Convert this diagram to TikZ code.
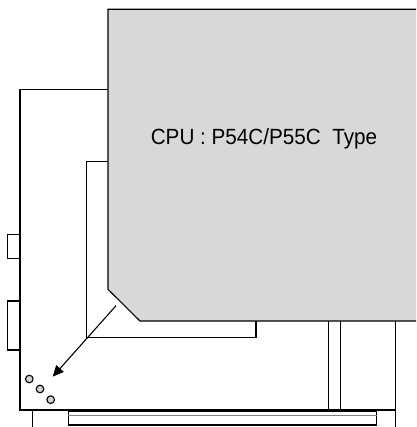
\documentclass[tikz,border=0pt]{standalone}
\usepackage{fontspec}
\setmainfont{Liberation Sans}
\usetikzlibrary{arrows.meta}
\begin{document}
\begin{tikzpicture}[x=1pt, y=-1pt, line width=1.1pt]
\useasboundingbox (0, 0) rectangle (416, 427);
\clip (0, 0) rectangle (416, 427);
% board outline and connectors
\draw (108, 89.3) -- (20, 89.3) -- (20, 410) -- (395.5, 410);
\draw (395.5, 321) -- (395.5, 428);
\draw (32.3, 410) -- (32.3, 428);
\draw (20, 234.3) -| (7.5, 258.7) -- (20, 258.7);
\draw (20, 301) -| (7.5, 350) -- (20, 350);
% slot
\draw (68.3, 411) rectangle (376.7, 425);
\draw[gray] (68.3, 415.7) -- (376.7, 415.7);
\draw (328.3, 321) -- (328.3, 410);
\draw (340.7, 321) -- (340.7, 410);
% socket
\draw (108, 161.7) -- (86.7, 161.7) -- (86.7, 337.7) -- (256, 337.7) -- (256, 321);
% cpu
\draw[fill={rgb,255:red,216;green,216;blue,216}] (430, 9.3) -- (108, 9.3) -- (108, 289.3) -- (140, 321) -- (430, 321);
\node (cpu) at (264, 139) {\fontsize{22}{22}\selectfont\scalebox{0.94}[1]{CPU : P54C/P55C\ \ Type}};
% jumper pins
\foreach \px/\py in {29.3/379, 40/389, 50.7/399.7}
  \draw[fill={rgb,255:red,210;green,210;blue,210}] (\px, \py) circle (3.8);
\coordinate (tail) at (116, 305.7);
\coordinate (head) at (52.7, 376.7);
\draw[-{Triangle[length=11pt, width=10pt]}] (tail) -- (head);
\end{tikzpicture}
\end{document}
